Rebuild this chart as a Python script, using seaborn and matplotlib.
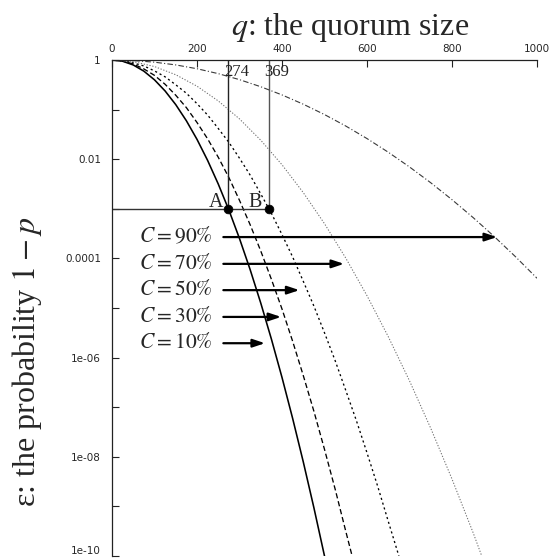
import numpy as np
import pandas as pd
import matplotlib
matplotlib.use("Agg")
import matplotlib.pyplot as plt
import seaborn as sns
from matplotlib.ticker import FixedLocator, NullLocator

# ---------------- data ----------------
# exponents: log10(epsilon) at quorum size q
q_c10 = [0, 25, 50, 75, 100, 125, 150, 175, 200, 225, 250, 275, 300, 325, 350, 375, 400, 425, 450, 475, 500]
e_c10 = [0, -0.025, -0.10, -0.225, -0.40, -0.625, -0.90, -1.225, -1.60, -2.025, -2.50, -3.025, -3.60,
         -4.225, -4.90, -5.625, -6.40, -7.225, -8.10, -9.025, -10.0]

q_c30 = [0, 25, 50, 75, 100, 125, 150, 175, 200, 225, 250, 275, 300, 325, 350, 375, 400, 425, 450, 475, 500,
         525, 550, 565]
e_c30 = [0, -0.02, -0.08, -0.18, -0.31, -0.49, -0.71, -0.96, -1.26, -1.59, -1.96, -2.37, -2.83, -3.32, -3.85,
         -4.42, -5.02, -5.67, -6.36, -7.08, -7.85, -8.65, -9.50, -10.0]

q_c50 = [0, 25, 50, 75, 100, 125, 150, 175, 200, 225, 250, 275, 300, 325, 350, 375, 400, 425, 450, 475, 500,
         525, 550, 575, 600, 625, 650, 675]
e_c50 = [0, -0.01, -0.06, -0.12, -0.22, -0.34, -0.50, -0.67, -0.88, -1.11, -1.38, -1.66, -1.98, -2.32, -2.70,
         -3.09, -3.52, -3.97, -4.46, -4.96, -5.50, -6.06, -6.66, -7.27, -7.92, -8.59, -9.30, -10.0]

q_c70 = [0, 50, 100, 150, 200, 250, 300, 350, 400, 450, 500, 550, 600, 650, 700, 750, 800, 850, 870]
e_c70 = [0, -0.033, -0.132, -0.297, -0.528, -0.825, -1.188, -1.617, -2.112, -2.673, -3.30, -3.993, -4.752,
         -5.577, -6.468, -7.425, -8.448, -9.537, -10.0]

q_c90 = [0, 50, 100, 150, 200, 250, 300, 350, 400, 450, 500, 550, 600, 650, 700, 750, 800, 850, 900, 950, 1000]
e_c90 = [0, -0.011, -0.044, -0.099, -0.176, -0.275, -0.396, -0.539, -0.704, -0.891, -1.10, -1.331, -1.584,
         -1.859, -2.156, -2.475, -2.816, -3.179, -3.564, -3.971, -4.40]

series_names = ["10%", "30%", "50%", "70%", "90%"]

# arrows: label, exponent of arrow height, arrow start q, arrow tip q
arrow_labels = ["$C = 90\\%$", "$C = 70\\%$", "$C = 50\\%$", "$C = 30\\%$", "$C = 10\\%$"]
arrow_exp = [-3.57, -4.11, -4.64, -5.18, -5.71]
arrow_start = [262, 262, 262, 262, 262]
arrow_tip = [906, 546, 441, 398, 360]

# marked points
point_q = [274, 369]
point_exp = [-3, -3]
point_names = ["A", "B"]

x_ticks = [0, 200, 400, 600, 800, 1000]
y_tick_exp = list(range(0, -11, -1))
y_tick_labels = ["1", "", "0.01", "", "0.0001", "", "1e-06", "", "1e-08", "", "1e-10"]

# ---------------- build table ----------------
frames = []
for name, q, e in zip(series_names, [q_c10, q_c30, q_c50, q_c70, q_c90],
                      [e_c10, e_c30, e_c50, e_c70, e_c90]):
    frames.append(pd.DataFrame({"q": q, "eps": 10.0 ** np.array(e, dtype=float), "C": name}))
df = pd.concat(frames, ignore_index=True)

# ---------------- style ----------------
sns.set_theme(style="white")
plt.rcParams["font.family"] = ["Liberation Serif", "DejaVu Serif"]
plt.rcParams["mathtext.fontset"] = "stix"

fig = plt.figure(figsize=(5.53, 5.59), dpi=100)
W, H = 553, 559
ax = fig.add_axes([112 / W, 1 - 556 / H, (537 - 112) / W, (556 - 60) / H])

palette = {"10%": "black", "30%": "black", "50%": "black", "70%": "#6e6e6e", "90%": "#3a3a3a"}
dashes = {"10%": "", "30%": (4, 2.2), "50%": (1.6, 2.2), "70%": (1.2, 1.6), "90%": (5, 2, 1, 2)}
sizes = {"10%": 1.15, "30%": 0.95, "50%": 0.95, "70%": 0.75, "90%": 0.8}

sns.lineplot(data=df, x="q", y="eps", hue="C", style="C", size="C", palette=palette,
             dashes=dashes, sizes=sizes, legend=False, sort=False, estimator=None, ax=ax)

ax.set_yscale("log")
ax.set_xlim(0, 1000)
ax.set_ylim(1e-10, 1)

# guide lines to A and B
eps_ab = 10.0 ** point_exp[0]
ax.plot([point_q[0], point_q[0]], [1, eps_ab], color="#222222", lw=1.0)
ax.plot([point_q[1], point_q[1]], [1, eps_ab], color="#555555", lw=1.0)
ax.plot([0, point_q[1]], [eps_ab, eps_ab], color="#333333", lw=1.0)
sns.scatterplot(x=point_q, y=[10.0 ** p for p in point_exp], color="black", s=40,
                edgecolor="black", zorder=5, ax=ax)

for q in point_q:
    ax.annotate(str(q), xy=(q, 1), xytext=(-3, -3), textcoords="offset points",
                ha="left", va="top", fontsize=12, color="#222222")
for q, p, nm, dx in zip(point_q, point_exp, point_names, [-4, -5]):
    ax.annotate(nm, xy=(q, 10.0 ** p), xytext=(dx, 1), textcoords="offset points",
                ha="right", va="baseline", fontsize=14.5)

for lab, e, s, t in zip(arrow_labels, arrow_exp, arrow_start, arrow_tip):
    y = 10.0 ** e
    ax.annotate("", xy=(t, y), xytext=(s, y),
                arrowprops=dict(arrowstyle="-|>,head_length=0.6,head_width=0.2",
                                lw=1.6, color="black", shrinkA=0, shrinkB=0, mutation_scale=12))
    ax.annotate(lab, xy=(s, y), xytext=(-8, 0), textcoords="offset points",
                ha="right", va="center", fontsize=15.5)

# axes decoration
for side in ["right", "bottom"]:
    ax.spines[side].set_visible(False)
for side in ["left", "top"]:
    ax.spines[side].set_color("#222222")
    ax.spines[side].set_linewidth(0.9)

ax.xaxis.tick_top()
ax.set_xticks(x_ticks)
ax.set_xticklabels([str(v) for v in x_ticks])
ax.yaxis.set_major_locator(FixedLocator([10.0 ** k for k in y_tick_exp]))
ax.yaxis.set_minor_locator(NullLocator())
ax.set_yticklabels(y_tick_labels)
ax.tick_params(axis="x", which="major", direction="in", length=5, width=0.8, color="#222222",
               top=True, bottom=False, labeltop=True, labelbottom=False, pad=4, labelsize=7.5)
ax.tick_params(axis="y", which="major", direction="in", length=5, width=0.8, color="#222222",
               left=True, right=False, pad=8, labelsize=7.5)
for lbl in ax.get_xticklabels() + ax.get_yticklabels():
    lbl.set_fontfamily("DejaVu Sans")
ax.get_yticklabels()[-1].set_verticalalignment("bottom")
ax.set_xlabel("")
ax.set_ylabel("")

fig.text(350 / W, 1 - 27 / H, "$q$: the quorum size", ha="center", va="center", fontsize=23)
fig.text(27 / W, 1 - 362 / H, "ε: the probability $1 - p$", ha="center", va="center",
         rotation=90, fontsize=23)

fig.savefig("out.png", dpi=100)
